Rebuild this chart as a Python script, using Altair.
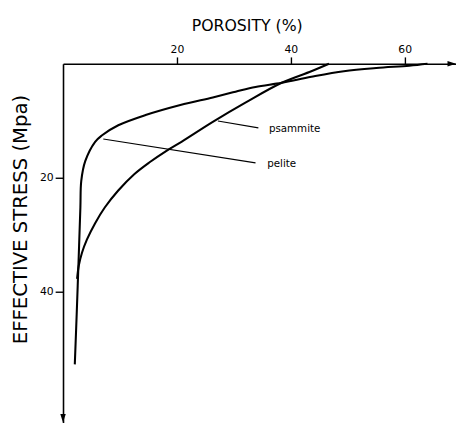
import altair as alt
import pandas as pd

# --- data ---
pelite_porosity = [64.0, 60.8, 55.0, 49.3, 43.6, 38.4, 33.8, 30.3, 26.3, 20.6, 14.5, 9.7, 6.8, 5.64, 3.9, 3.2, 3.05, 2.76, 2.4, 2.07]
pelite_stress = [0.0, 0.34, 0.74, 1.31, 2.29, 3.33, 4.07, 4.9, 5.9, 7.24, 9.0, 10.8, 12.6, 13.7, 17.1, 20.6, 25.2, 33.8, 44.0, 52.8]

psammite_porosity = [46.7, 43.6, 38.4, 32.1, 26.3, 20.8, 18.3, 15.2, 12.5, 9.66, 7.36, 5.64, 4.19, 3.33, 2.76, 2.47]
psammite_stress = [0.0, 1.31, 3.33, 6.78, 10.2, 13.7, 15.2, 17.3, 19.4, 22.3, 25.2, 28.0, 30.9, 33.2, 35.5, 37.8]

label_names = ["psammite", "pelite"]
leader_from_porosity = [27.2, 7.07]
leader_from_stress = [10.05, 13.2]
leader_to_porosity = [34.3, 33.8]
leader_to_stress = [11.26, 17.4]
label_porosity = [35.8, 35.5]
label_stress = [11.55, 17.6]

x_ticks = [20, 40, 60]
y_ticks = [20, 40]
x_max = 69
y_max = 63

FONT = "DejaVu Sans"

rows = []
for i, (p, s) in enumerate(zip(pelite_porosity, pelite_stress)):
    rows.append({"rock": "pelite", "porosity": p, "stress": s, "i": i})
for i, (p, s) in enumerate(zip(psammite_porosity, psammite_stress)):
    rows.append({"rock": "psammite", "porosity": p, "stress": s, "i": i})
curves = pd.DataFrame(rows)

leaders = pd.DataFrame({
    "name": label_names,
    "x1": leader_from_porosity, "y1": leader_from_stress,
    "x2": leader_to_porosity, "y2": leader_to_stress,
    "lx": label_porosity, "ly": label_stress,
})

arrows = pd.DataFrame({
    "x": [x_max, 0],
    "y": [0, y_max],
    "shape": ["M-1,-0.32L0,0L-1,0.32Z", "M-0.32,-1L0,0L0.32,-1Z"],
})

xscale = alt.Scale(domain=[0, x_max], nice=False, zero=False)
yscale = alt.Scale(domain=[0, y_max], nice=False, zero=False, reverse=True)

xaxis = alt.Axis(
    orient="top", values=x_ticks, grid=False, title="POROSITY (%)",
    domainColor="black", domainWidth=1.6, tickColor="black", tickWidth=1.4,
    tickSize=7, labelFontSize=11, labelColor="black", labelFont=FONT, labelPadding=2,
    titleFont=FONT, titleFontSize=16, titleFontWeight="normal", titleColor="black",
    titleX=187, titleY=-34, titleAlign="center", titleBaseline="alphabetic",
)
yaxis = alt.Axis(
    orient="left", values=y_ticks, grid=False, title="EFFECTIVE STRESS (Mpa)",
    domainColor="black", domainWidth=1.6, tickColor="black", tickWidth=1.4,
    tickSize=8, labelFontSize=11, labelColor="black", labelFont=FONT, labelPadding=2,
    titleFont=FONT, titleFontSize=20, titleFontWeight="normal", titleColor="black",
    titleX=-37, titleY=158, titleAngle=270, titleAlign="center", titleBaseline="alphabetic",
)

lines = alt.Chart(curves).mark_line(
    color="black", strokeWidth=2.1, interpolate="catmull-rom"
).encode(
    x=alt.X("porosity:Q", scale=xscale, axis=xaxis),
    y=alt.Y("stress:Q", scale=yscale, axis=yaxis),
    detail="rock:N",
    order="i:Q",
)

rules = alt.Chart(leaders).mark_rule(color="black", strokeWidth=1.1).encode(
    x=alt.X("x1:Q", scale=xscale), y=alt.Y("y1:Q", scale=yscale),
    x2="x2:Q", y2="y2:Q",
)

texts = alt.Chart(leaders).mark_text(
    align="left", baseline="middle", font=FONT, fontSize=10.5, color="black", dx=2
).encode(
    x=alt.X("lx:Q", scale=xscale), y=alt.Y("ly:Q", scale=yscale), text="name:N",
)

heads = alt.Chart(arrows).mark_point(filled=True, color="black", opacity=1, size=300).encode(
    x=alt.X("x:Q", scale=xscale), y=alt.Y("y:Q", scale=yscale),
    shape=alt.Shape("shape:N", scale=None),
)

chart = alt.layer(lines, rules, texts, heads).properties(
    width=400, height=365,
    padding={"left": 56, "top": 53, "right": 0, "bottom": 8},
    autosize=alt.AutoSizeParams(type="none"),
    background="white",
).configure_view(stroke=None)

chart.save("out.html", embed_options={"renderer": "svg", "actions": False})
